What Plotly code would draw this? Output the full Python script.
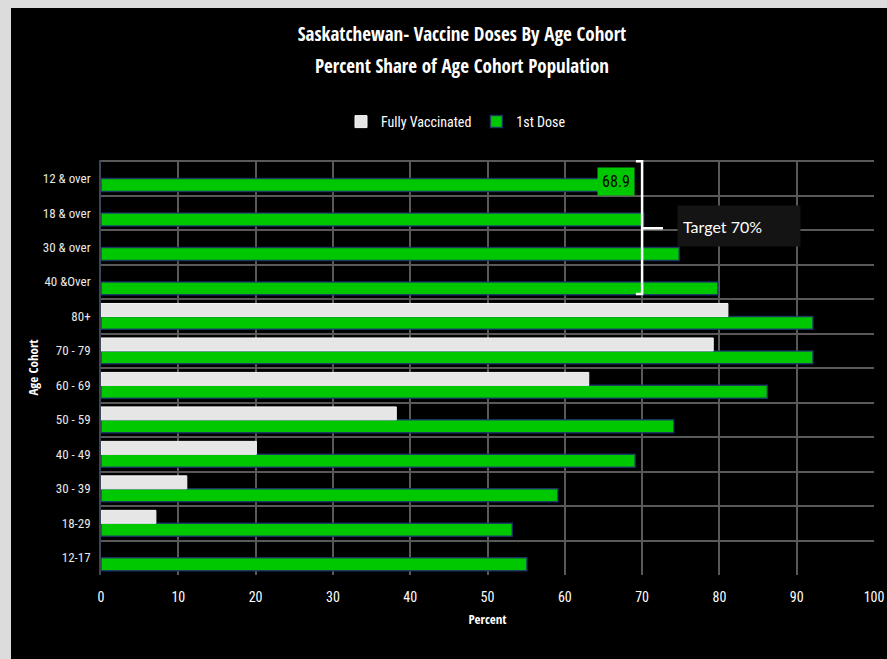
import plotly.graph_objects as go

# Categories listed bottom-to-top
categories = ["12-17", "18-29", "30 - 39", "40 - 49", "50 - 59", "60 - 69",
              "70 - 79", "80+", "40 &Over", "30 & over", "18 & over", "12 & over"]
fully_vaccinated = [None, 7.1, 11.1, 20.1, 38.2, 63.1, 79.2, 81.1, None, None, None, None]
first_dose = [55.1, 53.2, 59.1, 69.1, 74.1, 86.2, 92.1, 92.1, 79.8, 74.8, 70.2, 68.9]
x_ticks = [0, 10, 20, 30, 40, 50, 60, 70, 80, 90, 100]
title_lines = ["Saskatchewan- Vaccine Doses By Age Cohort", "Percent Share of Age Cohort Population"]

FONT = "Open Sans Condensed, Roboto Condensed, sans-serif"
FONT_REG = "Roboto Condensed, Open Sans Condensed, sans-serif"
GREEN = "#00C800"
WHITE_BAR = "#E6E6E6"
GRID = "#595959"

fig = go.Figure()
# green first so it sits in the lower slot of each group
fig.add_trace(go.Bar(
    y=categories, x=first_dose, orientation="h", name="1st Dose",
    marker=dict(color=GREEN, line=dict(color="rgba(30,50,110,0.85)", width=1.5)),
))
fig.add_trace(go.Bar(
    y=categories, x=fully_vaccinated, orientation="h", name="Fully Vaccinated",
    marker=dict(color=WHITE_BAR, line=dict(color="#f6f6f6", width=1)),
))

# Data label on the 12 & over bar
fig.add_annotation(
    x=first_dose[-1], y=categories[-1], xref="x", yref="y", xshift=1,
    text="68.9", showarrow=False, xanchor="right", yanchor="middle", yshift=-3,
    bgcolor=GREEN, font=dict(family=FONT_REG, size=16, color="black"),
    borderpad=4,
)

# Bracket for the target
yt, yb, ym = 11.5, 7.65, 9.56
path = (f"M 69.2,{yt} L 70,{yt} L 70,{yb} L 69.2,{yb} "
        f"M 70,{ym} L 72.7,{ym}")
fig.add_shape(type="path", path=path, xref="x", yref="y",
              line=dict(color="white", width=2.5))

fig.add_annotation(
    x=82.5, y=9.62, xref="x", yref="y", text="Target 70%", showarrow=False,
    xanchor="center", yanchor="middle", align="left",
    bgcolor="#141414", width=112, height=30, borderpad=5,
    font=dict(family="Lato, Noto Sans, sans-serif", size=16, color="white"),
)

# Second title line
fig.add_annotation(
    x=(462 - 101) / 773, y=1 + (160 - 66) / 415, xref="paper", yref="paper", xanchor="center",
    yanchor="middle", showarrow=False, text=title_lines[1],
    font=dict(family=FONT, size=19, color="white", weight="bold"),
)

# Light strips at top/left of the page (chart canvas offset)
fig.add_shape(type="rect", xref="paper", yref="paper",
              x0=-101/773, x1=-90/773, y0=-84/415, y1=1 + 160/415,
              fillcolor="#dcdcdc", line=dict(width=0), layer="above")
fig.add_shape(type="rect", xref="paper", yref="paper",
              x0=-101/773, x1=1 + 13/773, y0=1 + 152/415, y1=1 + 160/415,
              fillcolor="#dcdcdc", line=dict(width=0), layer="above")

fig.update_layout(
    width=887, height=659,
    paper_bgcolor="black", plot_bgcolor="black",
    margin=dict(l=101, r=13, t=160, b=84, autoexpand=False),
    barmode="group", bargap=0.25, bargroupgap=0,
    title=dict(
        text=title_lines[0],
        x=462/887, xanchor="center", y=1 - 34/659, yanchor="middle",
        font=dict(family=FONT, size=19, color="white", weight="bold"),
    ),
    legend=dict(
        orientation="h", x=(456 - 101) / 773, xanchor="center", y=1 + 38/415, yanchor="middle",
        font=dict(family=FONT_REG, size=14, color="white"), traceorder="reversed",
        bgcolor="rgba(0,0,0,0)", itemwidth=30,
    ),
    font=dict(family=FONT_REG, color="white"),
    showlegend=True,
)
fig.update_xaxes(
    range=[0, 100], tickvals=x_ticks, showgrid=True, gridcolor=GRID, gridwidth=1.5,
    zeroline=False, showline=False, automargin=False, ticklabelstandoff=12,
    tickfont=dict(family=FONT_REG, size=14, color="white"),
    title=dict(text="Percent", font=dict(family=FONT, size=13, color="white", weight="bold"), standoff=10),
    ticks="", ticklen=0,
)
fig.update_yaxes(
    type="category", categoryorder="array", categoryarray=categories,
    tickson="boundaries", showgrid=True, gridcolor=GRID, gridwidth=1.5,
    showline=True, linecolor="#3b4656", linewidth=1.5, automargin=False,
    ticklabelstandoff=6,
    tickfont=dict(family=FONT_REG, size=13, color="#e8e8e8"), ticks="", ticklen=0,
    title=dict(text="Age Cohort", font=dict(family=FONT, size=13, color="white", weight="bold"), standoff=1),
)

fig.write_html("out.html")
